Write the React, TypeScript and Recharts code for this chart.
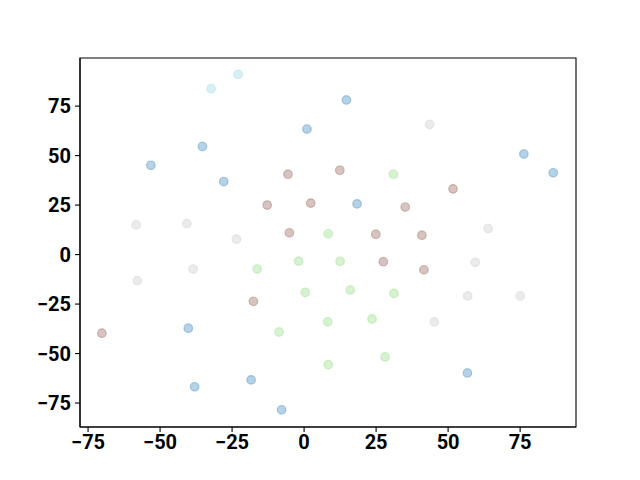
import React from "react";
import { ScatterChart, Scatter, XAxis, YAxis, ReferenceArea } from "recharts";

const xTicks = [-75, -50, -25, 0, 25, 50, 75];
const yTicks = [-75, -50, -25, 0, 25, 50, 75];
const xDomain = [-77.8, 94.4];
const yDomain = [-87.1, 99.3];

const cyanPts = [
  { x: -32.3, y: 83.8 },
  { x: -22.9, y: 91.0 },
];
const bluePts = [
  { x: 14.7, y: 78.1 },
  { x: 1.0, y: 63.4 },
  { x: -53.2, y: 45.1 },
  { x: -35.3, y: 54.6 },
  { x: -27.9, y: 36.9 },
  { x: 18.4, y: 25.6 },
  { x: 76.3, y: 50.8 },
  { x: 86.5, y: 41.3 },
  { x: -40.2, y: -37.2 },
  { x: -38.0, y: -66.8 },
  { x: -18.4, y: -63.3 },
  { x: -7.8, y: -78.4 },
  { x: 56.7, y: -59.8 },
];
const brownPts = [
  { x: -5.6, y: 40.6 },
  { x: -12.8, y: 25.0 },
  { x: 2.3, y: 26.0 },
  { x: -5.1, y: 11.0 },
  { x: 12.4, y: 42.6 },
  { x: 51.7, y: 33.2 },
  { x: 35.1, y: 24.0 },
  { x: 24.9, y: 10.3 },
  { x: 40.9, y: 9.8 },
  { x: 27.5, y: -3.6 },
  { x: 41.6, y: -7.7 },
  { x: -17.6, y: -23.6 },
  { x: -70.2, y: -39.7 },
];
const grayPts = [
  { x: -58.3, y: 15.0 },
  { x: -40.7, y: 15.7 },
  { x: -23.5, y: 7.8 },
  { x: 43.6, y: 65.7 },
  { x: 63.9, y: 13.2 },
  { x: -38.5, y: -7.3 },
  { x: -57.9, y: -13.2 },
  { x: 59.4, y: -3.9 },
  { x: 56.8, y: -20.9 },
  { x: 75.0, y: -20.9 },
  { x: 45.2, y: -34.0 },
];
const greenPts = [
  { x: 8.4, y: 10.5 },
  { x: 31.0, y: 40.6 },
  { x: -16.3, y: -7.3 },
  { x: -1.9, y: -3.3 },
  { x: 0.4, y: -19.1 },
  { x: 8.2, y: -34.0 },
  { x: -8.7, y: -39.1 },
  { x: 8.4, y: -55.6 },
  { x: 12.5, y: -3.4 },
  { x: 16.0, y: -17.9 },
  { x: 31.2, y: -19.6 },
  { x: 23.6, y: -32.5 },
  { x: 28.1, y: -51.7 },
];

const fmt = (v: number) => (v < 0 ? "\u2212" + Math.abs(v) : String(v));

const dot = (color: string, op: number) => (props: any) => (
  <circle
    cx={props.cx}
    cy={props.cy}
    r={4.3}
    fill={color}
    fillOpacity={op}
    stroke={color}
    strokeOpacity={op}
    strokeWidth={1.2}
  />
);

const tickStyle = {
  fill: "#000",
  fontSize: 20,
  fontWeight: "bold" as const,
  fontFamily: "Roboto, 'Liberation Sans', sans-serif",
};

export default function App() {
  return (
    <div style={{ position: "absolute", left: 0, top: 0, background: "#fff" }}>
      <ScatterChart
        width={640}
        height={480}
        margin={{ top: 58, right: 64, bottom: 0, left: 0 }}
      >
        <XAxis
          type="number"
          dataKey="x"
          domain={xDomain}
          ticks={xTicks}
          tickFormatter={fmt}
          allowDataOverflow
          height={53}
          tickSize={5}
          tickMargin={3}
          tick={tickStyle}
          axisLine={{ stroke: "#000", strokeWidth: 1.1 }}
          tickLine={{ stroke: "#000", strokeWidth: 1.1 }}
        />
        <YAxis
          type="number"
          dataKey="y"
          domain={yDomain}
          ticks={yTicks}
          tickFormatter={fmt}
          allowDataOverflow
          width={80}
          tickSize={5}
          tickMargin={4}
          tick={tickStyle}
          axisLine={{ stroke: "#000", strokeWidth: 1.1 }}
          tickLine={{ stroke: "#000", strokeWidth: 1.1 }}
        />
        <ReferenceArea
          x1={xDomain[0]}
          x2={xDomain[1]}
          y1={yDomain[0]}
          y2={yDomain[1]}
          fill="none"
          fillOpacity={0}
          stroke="#000"
          strokeWidth={1.1}
          strokeOpacity={1}
          ifOverflow="visible"
        />
        <Scatter data={cyanPts} shape={dot("#9edae5", 0.4)} isAnimationActive={false} />
        <Scatter data={bluePts} shape={dot("#1f77b4", 0.33)} isAnimationActive={false} />
        <Scatter data={brownPts} shape={dot("#8c564b", 0.35)} isAnimationActive={false} />
        <Scatter data={grayPts} shape={dot("#c7c7c7", 0.35)} isAnimationActive={false} />
        <Scatter data={greenPts} shape={dot("#98df8a", 0.4)} isAnimationActive={false} />
      </ScatterChart>
    </div>
  );
}
